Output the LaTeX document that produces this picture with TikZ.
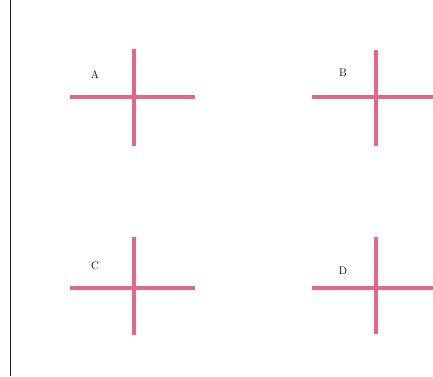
\documentclass[tikz,border=0pt]{standalone}
\definecolor{crosspink}{RGB}{226,104,138}
\begin{document}
\begin{tikzpicture}[x=1pt,y=-1pt,
  crossline/.style={draw=crosspink,line width=3.2pt},
  lbl/.style={font=\fontsize{11}{12}\selectfont,inner sep=0pt}]
\useasboundingbox (0,0) rectangle (433,376);
\fill[white] (0,0) rectangle (433,376);
\draw[line width=1.8pt,black!85] (10.5,0) -- (10.5,376);
% A
\draw[crossline] (70,97) -- (195,97);
\draw[crossline] (134,49) -- (134,146);
\node[lbl] (A) at (95,75) {A};
% B
\draw[crossline] (312,97) -- (433,97);
\draw[crossline] (376,50) -- (376,146);
\node[lbl] (B) at (343,73) {B};
% C
\draw[crossline] (70,288) -- (195,288);
\draw[crossline] (134,237) -- (134,335);
\node[lbl] (C) at (95,266) {C};
% D
\draw[crossline] (312,288) -- (433,288);
\draw[crossline] (376,237) -- (376,334);
\node[lbl] (D) at (343,271) {D};
\end{tikzpicture}
\end{document}
